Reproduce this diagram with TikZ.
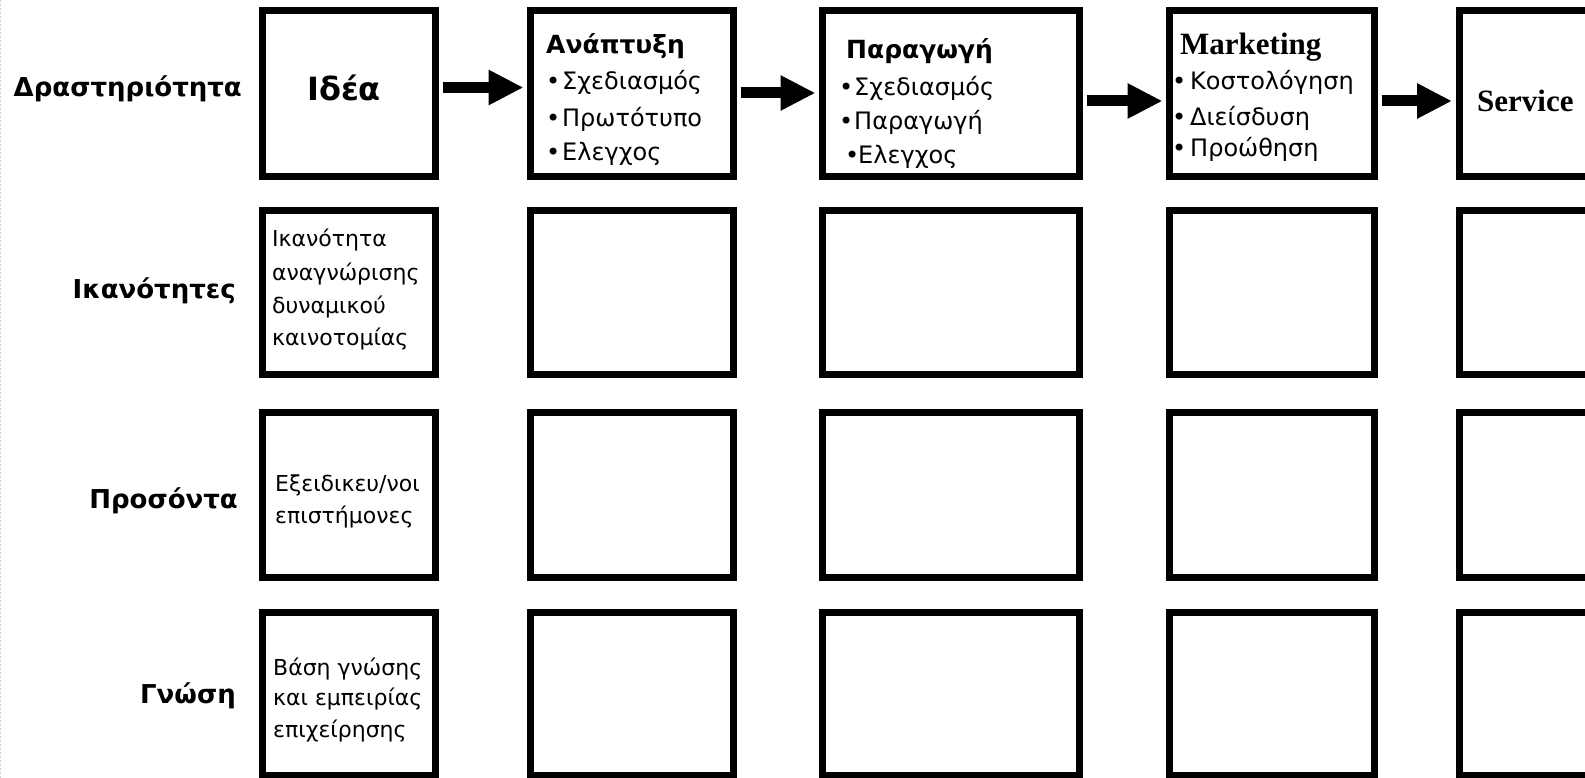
\documentclass[tikz,border=0pt]{standalone}
\usepackage{fontspec}
\setmainfont{DejaVu Sans}
\newfontfamily\lserif{Liberation Serif}
\usetikzlibrary{arrows.meta}
\tikzset{
  cell/.style={draw=black, line width=7pt, fill=white, inner sep=0pt, outer sep=0pt, rectangle},
  lbl/.style={inner sep=0pt, anchor=base east, font=\fontsize{26}{30}\selectfont\bfseries},
  txt/.style={inner sep=0pt, anchor=base west, font=\fontsize{24}{30}\selectfont},
  small/.style={inner sep=0pt, anchor=base west, font=\fontsize{22}{30}\selectfont},
  head/.style={inner sep=0pt, anchor=base west, font=\fontsize{25}{30}\selectfont\bfseries},
  serifhead/.style={inner sep=0pt, anchor=base west, font=\fontsize{31}{34}\selectfont\lserif\bfseries},
  flow/.style={line width=11pt, -{Triangle[length=35pt, width=33pt]}, shorten <=7pt, shorten >=7pt}
}
\newcommand{\bul}[2]{\makebox[#1pt][l]{•}#2}
\begin{document}
\begin{tikzpicture}[x=1pt,y=-1pt]
\useasboundingbox (0,0) rectangle (1585,778);
\fill[white] (0,0) rectangle (1585,778);
\draw[gray!35, line width=1pt, dash pattern=on 2pt off 2pt] (0.5,0) -- (0.5,778);
% columns (outer): col1 259-439, col2 527-737, col3 819-1083, col4 1166-1378, col5 1457-
% rows (outer): 7-180, 207-378, 409-581, 609-779
\foreach \r/\cy/\h in {1/93.5/166, 2/292.5/164, 3/495/165, 4/694/163}{
  \node[cell, minimum width=173pt, minimum height=\h pt] (b\r1) at (349,\cy) {};
  \node[cell, minimum width=203pt, minimum height=\h pt] (b\r2) at (632,\cy) {};
  \node[cell, minimum width=257pt, minimum height=\h pt] (b\r3) at (951,\cy) {};
  \node[cell, minimum width=205pt, minimum height=\h pt] (b\r4) at (1272,\cy) {};
  \node[cell, minimum width=203pt, minimum height=\h pt] (b\r5) at (1560.5,\cy) {};
}
% row labels
\node[lbl] (l1) at (242,97) {Δραστηριότητα};
\node[lbl] (l2) at (236,298) {Ικανότητες};
\node[lbl] (l3) at (238,508) {Προσόντα};
\node[lbl] (l4) at (236,703) {Γνώση};
% row 1 contents
\node[inner sep=0pt, anchor=base, font=\fontsize{32}{34}\selectfont\bfseries] (idea) at (344,101) {Ιδέα};
\node[head] (h2) at (546,54) {Ανάπτυξη};
\node[txt] (i21) at (546,90) {\bul{16}{Σχεδιασμός}};
\node[txt] (i22) at (546,127) {\bul{16}{Πρωτότυπο}};
\node[txt] (i23) at (546,161) {\bul{16}{Ελεγχος}};
\node[head] (h3) at (846,59) {Παραγωγή};
\node[txt] (i31) at (839,96) {\bul{15}{Σχεδιασμός}};
\node[txt] (i32) at (839,130) {\bul{15}{Παραγωγή}};
\node[txt] (i33) at (845,164) {\bul{13}{Ελεγχος}};
\node[serifhead] (h4) at (1180,55) {Marketing};
\node[txt] (i41) at (1172,90) {\bul{18}{Κοστολόγηση}};
\node[txt] (i42) at (1172,126) {\bul{18}{Διείσδυση}};
\node[txt] (i43) at (1172,157) {\bul{18}{Προώθηση}};
\node[serifhead] (h5) at (1477,112) {Service};
% column 1 texts
\node[small] (t21) at (272,247) {Ικανότητα};
\node[small] (t22) at (272,280) {αναγνώρισης};
\node[small] (t23) at (272,313) {δυναμικού};
\node[small] (t24) at (272,345) {καινοτομίας};
\node[small] (t31) at (275,491) {Εξειδικευ/νοι};
\node[small] (t32) at (275,523) {επιστήμονες};
\node[small] (t41) at (273,675) {Βάση γνώσης};
\node[small] (t42) at (273,705) {και εμπειρίας};
\node[small] (t43) at (273,737) {επιχείρησης};
% arrows
\draw[flow] ([yshift=6pt]b11.east) -- ([yshift=6pt]b12.west);
\draw[flow] ([yshift=0.5pt]b12.east) -- ([yshift=0.5pt]b13.west);
\draw[flow] ([yshift=-7.5pt]b13.east) -- ([yshift=-7.5pt]b14.west);
\draw[flow] ([yshift=-7.5pt]b14.east) -- ([yshift=-7.5pt]b15.west);
\end{tikzpicture}
\end{document}
